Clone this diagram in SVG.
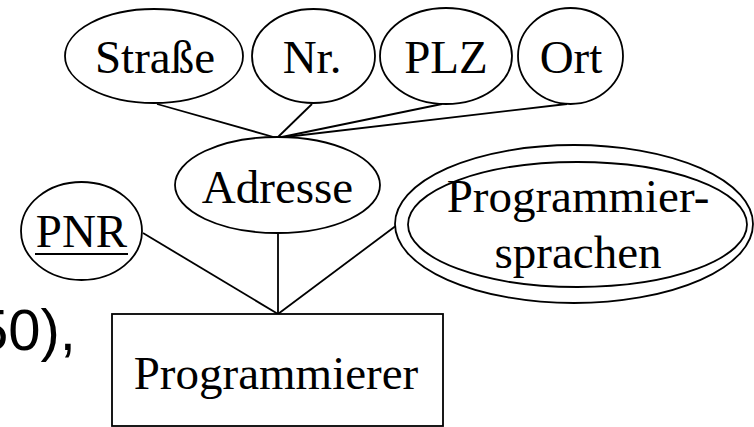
<svg xmlns="http://www.w3.org/2000/svg" width="754" height="427" viewBox="0 0 754 427">
<style>
.s{fill:#fff;stroke:#000;stroke-width:1.8}
.l{stroke:#000;stroke-width:1.8;fill:none}
.t{font-family:"Liberation Serif","Times New Roman",serif;font-size:47px;fill:#000;text-anchor:middle}
</style>
<rect width="754" height="427" fill="#fff"/>
<text x="-24" y="350" font-family="Liberation Sans, Arial, sans-serif" font-size="58" fill="#000">50),</text>
<g id="connectors">
<line class="l" x1="157" y1="104" x2="277" y2="138"/>
<line class="l" x1="312" y1="104" x2="277" y2="138"/>
<line class="l" x1="442" y1="104" x2="277" y2="138"/>
<line class="l" x1="567" y1="104" x2="277" y2="138"/>
<line class="l" x1="143" y1="233" x2="278" y2="314"/>
<line class="l" x1="278" y1="233" x2="278" y2="314"/>
<line class="l" x1="397" y1="225" x2="278" y2="314"/>
</g>
<g id="strasse"><ellipse class="s" cx="154" cy="56" rx="89" ry="47"/><text class="t" x="155" y="73">Straße</text></g>
<g id="nr"><ellipse class="s" cx="313.5" cy="56" rx="61.5" ry="47"/><text class="t" x="312" y="73">Nr.</text></g>
<g id="plz"><ellipse class="s" cx="446" cy="56" rx="66" ry="48"/><text class="t" x="446" y="73">PLZ</text></g>
<g id="ort"><ellipse class="s" cx="570.5" cy="56" rx="52.5" ry="48"/><text class="t" x="571" y="73">Ort</text></g>
<g id="adresse"><ellipse class="s" cx="277.5" cy="185" rx="102.5" ry="48"/><text class="t" x="277.5" y="203">Adresse</text></g>
<g id="pnr"><ellipse class="s" cx="81.5" cy="231" rx="60.5" ry="49"/><text class="t" x="81.5" y="247">PNR</text><line x1="35" y1="254" x2="128" y2="254" stroke="#000" stroke-width="2.2"/></g>
<g id="programmiersprachen"><ellipse class="s" cx="574" cy="224" rx="179" ry="79"/><ellipse class="s" cx="577.5" cy="224.5" rx="169.5" ry="62.5"/><text class="t" x="578" y="212">Programmier-</text><text class="t" x="578" y="268">sprachen</text></g>
<g id="programmierer"><rect class="s" x="112" y="314" width="331" height="112"/><text class="t" x="276" y="389">Programmierer</text></g>
</svg>
